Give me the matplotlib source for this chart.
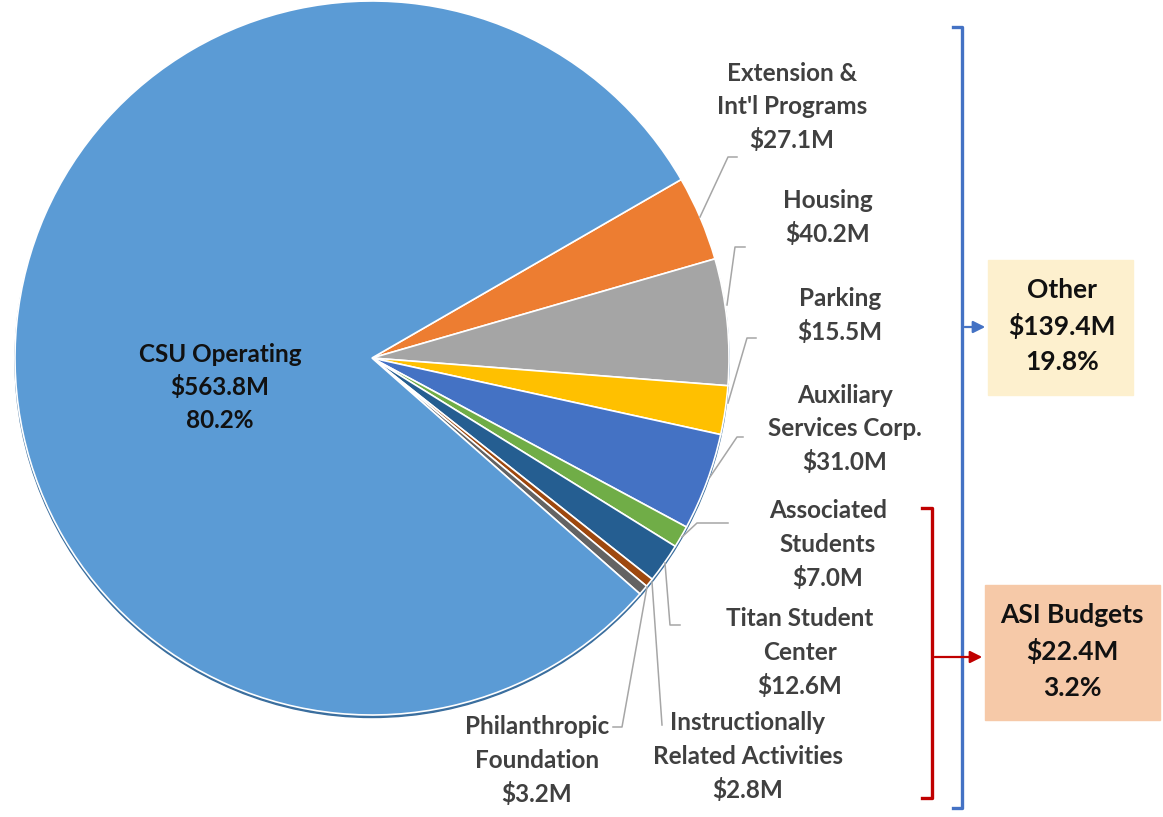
import matplotlib
matplotlib.use("Agg")
import matplotlib.pyplot as plt

# budget by source, $M (clockwise from top right)
names = ["Extension &\nInt'l Programs", "Housing", "Parking", "Auxiliary\nServices Corp.",
         "Associated\nStudents", "Titan Student\nCenter", "Instructionally\nRelated Activities",
         "Philanthropic\nFoundation", "CSU Operating"]
amounts = [27.1, 40.2, 15.5, 31.0, 7.0, 12.6, 2.8, 3.2, 563.8]
colors = ["#ED7D31", "#A5A5A5", "#FFC000", "#4472C4", "#70AD47", "#255E91", "#9E480E",
          "#636363", "#5B9BD5"]

other_total = 139.4
other_pct = 19.8
asi_total = 22.4
asi_pct = 3.2

W, H = 1163, 817
fig = plt.figure(figsize=(W / 100, H / 100), dpi=100)
ax = fig.add_axes([0, 0, 1, 1])
ax.set_xlim(0, W)
ax.set_ylim(0, H)
ax.set_aspect("equal")
ax.axis("off")

def Y(y):
    # image rows -> data y
    return H - y

cx, cy, r = 372, 358, 357

# faint shadow under the pie
shadow = plt.Circle((cx, Y(cy) - 2.5), r, color="#3a6e9e", zorder=0)
ax.add_patch(shadow)

ax.pie(amounts, colors=colors, startangle=30, counterclock=False,
       center=(cx, Y(cy)), radius=r, frame=True,
       wedgeprops=dict(edgecolor="white", linewidth=1.2))
ax.set_xlim(0, W)
ax.set_ylim(0, H)
ax.axis("off")

plt.rcParams["font.family"] = ["Lato", "DejaVu Sans"]
lab_col = "#404040"
fs = 17.5

# label anchors (centre x, first line y) and leader lines, in image pixels
label_pos = [(792, 73), (828, 200), (840, 298), (845, 395), (828, 511), (800, 619),
             (748, 723), (537, 727)]
leaders = [
    [(700, 217), (728, 157), (737, 157)],
    [(727, 305), (735, 247), (745, 247)],
    [(728, 403), (747, 338), (756, 338)],
    [(710, 477), (737, 437), (743, 437)],
    [(682, 537), (697, 523), (728, 523)],
    [(665, 563), (670, 625), (680, 625)],
    [(652, 582), (662, 725)],
    [(647, 587), (622, 727), (613, 727)],
]
step = 33.5
for i in range(len(label_pos)):
    lx, ly = label_pos[i]
    lines = names[i].split("\n") + ["$%.1fM" % amounts[i]]
    for k, t in enumerate(lines):
        ax.text(lx, Y(ly + k * step), t.replace("$", r"\$"), ha="center", va="center",
                fontsize=fs, fontweight="bold", color=lab_col, zorder=5)
    xs = [p[0] for p in leaders[i]]
    ys = [Y(p[1]) for p in leaders[i]]
    ax.plot(xs, ys, color="#A6A6A6", lw=1.1, zorder=4)

# CSU Operating label inside the pie
csu_share = amounts[-1] / sum(amounts) * 100
for k, t in enumerate([names[-1], r"\$%.1fM" % amounts[-1], "%.1f%%" % csu_share]):
    ax.text(220, Y(354 + k * 33), t, ha="center", va="center", fontsize=fs,
            fontweight="bold", color="#111111", zorder=5)

# blue bracket -> Other
blue = "#4472C4"
ax.plot([953, 962, 962, 953], [Y(27), Y(27), Y(808), Y(808)], color=blue, lw=2.4)
ax.annotate("", xy=(988, Y(327)), xytext=(962, Y(327)),
            arrowprops=dict(arrowstyle="-|>", color=blue, lw=1.6, mutation_scale=18))
ax.add_patch(plt.Rectangle((988, Y(395)), 145, 135, color="#FDF0CE", zorder=1))
for k, t in enumerate(["Other", r"\$%.1fM" % other_total, "%.1f%%" % other_pct]):
    ax.text(1062, Y(290 + k * 36), t, ha="center", va="center", fontsize=19,
            fontweight="bold", color="#111111", zorder=5)

# red bracket -> ASI Budgets
red = "#C00000"
ax.plot([922, 932, 932, 922], [Y(508), Y(508), Y(798), Y(798)], color=red, lw=2.4)
ax.annotate("", xy=(985, Y(657)), xytext=(932, Y(657)),
            arrowprops=dict(arrowstyle="-|>", color=red, lw=1.6, mutation_scale=18))
ax.add_patch(plt.Rectangle((985, Y(720)), 175, 135, color="#F6C9A8", zorder=1))
for k, t in enumerate(["ASI Budgets", r"\$%.1fM" % asi_total, "%.1f%%" % asi_pct]):
    ax.text(1072, Y(615 + k * 36.5), t, ha="center", va="center", fontsize=19,
            fontweight="bold", color="#111111", zorder=5)

fig.savefig("out.png", dpi=100)
